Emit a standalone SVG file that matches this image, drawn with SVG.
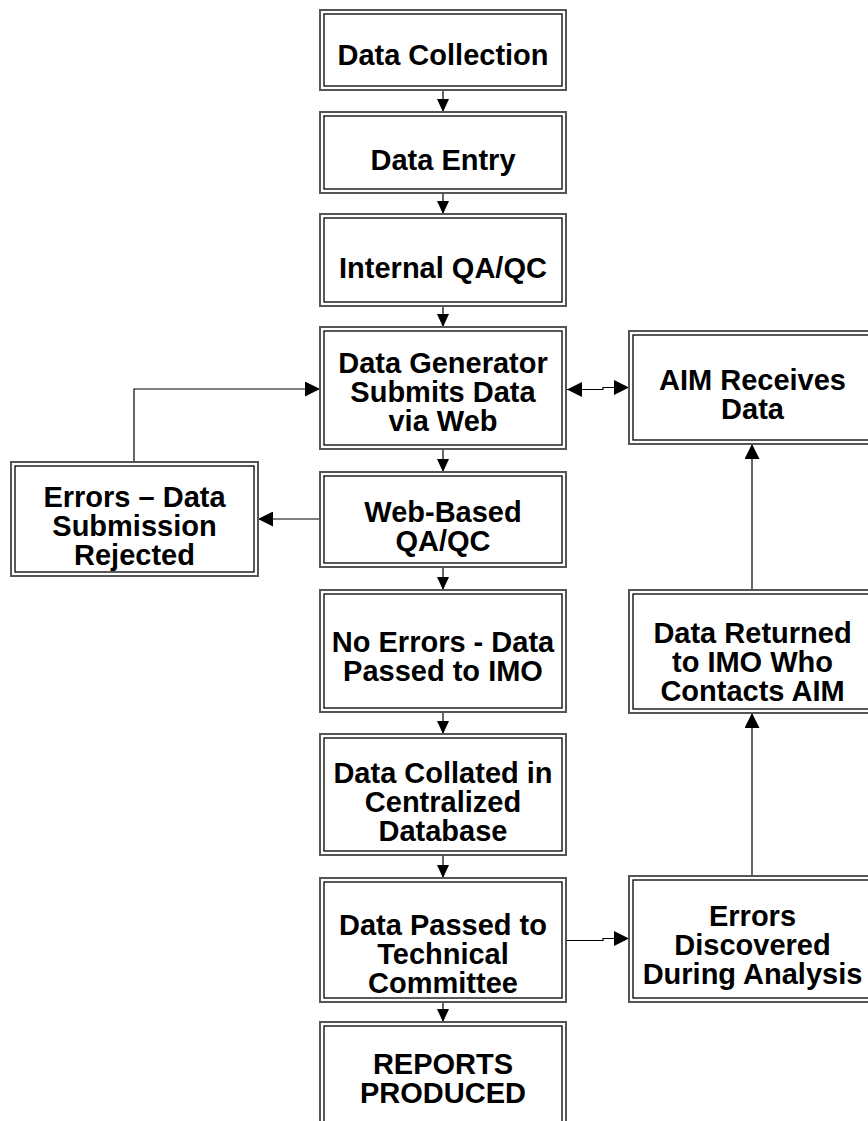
<svg xmlns="http://www.w3.org/2000/svg" width="868" height="1121" viewBox="0 0 868 1121">
  <style>
    .o { fill: #fff; stroke: #555; stroke-width: 2; }
    .i { fill: none; stroke: #000; stroke-width: 1.3; }
    .t { font-family: "Liberation Sans", Arial, sans-serif; font-weight: bold; font-size: 29px; text-anchor: middle; fill: #000; }
    .c { fill: none; stroke: #000; stroke-width: 1.2; }
  </style>
  <defs>
    <marker id="ah" viewBox="0 0 13 12" refX="13" refY="6" markerWidth="13" markerHeight="12" markerUnits="userSpaceOnUse" orient="auto">
      <path d="M0,0 L13,6 L0,12 z" fill="#000"/>
    </marker>
    <marker id="ahL" viewBox="0 0 15 15" refX="15" refY="7.5" markerWidth="15" markerHeight="15" markerUnits="userSpaceOnUse" orient="auto-start-reverse">
      <path d="M0,0 L15,7.5 L0,15 z" fill="#000"/>
    </marker>
  </defs>

  <!-- connectors -->
  <g id="connectors">
    <path class="c" d="M443,90 V112" marker-end="url(#ah)"/>
    <path class="c" d="M443,193 V214" marker-end="url(#ah)"/>
    <path class="c" d="M443,306 V327" marker-end="url(#ah)"/>
    <path class="c" d="M443,449 V472" marker-end="url(#ah)"/>
    <path class="c" d="M443,567 V590" marker-end="url(#ah)"/>
    <path class="c" d="M443,712 V734" marker-end="url(#ah)"/>
    <path class="c" d="M443,855 V878" marker-end="url(#ah)"/>
    <path class="c" d="M443,1002 V1022" marker-end="url(#ah)"/>
    <path class="c" d="M320,519 H258" marker-end="url(#ahL)"/>
    <path class="c" d="M134,462 V389 H320" marker-end="url(#ahL)"/>
    <path class="c" d="M567,389.5 H603 V387.5 H629" marker-start="url(#ahL)" marker-end="url(#ahL)"/>
    <path class="c" d="M566,940.5 H603 V938.5 H629" marker-end="url(#ahL)"/>
    <path class="c" d="M752,876 V713" marker-end="url(#ahL)"/>
    <path class="c" d="M752,590 V444" marker-end="url(#ahL)"/>
  </g>

  <g id="data-collection">
    <rect class="o" x="320" y="10" width="246" height="80"/>
    <rect class="i" x="324" y="14" width="238" height="72"/>
    <text class="t" x="443" y="64.5">Data Collection</text>
  </g>
  <g id="data-entry">
    <rect class="o" x="320" y="112" width="246" height="81"/>
    <rect class="i" x="324" y="116" width="238" height="73"/>
    <text class="t" x="443" y="170">Data Entry</text>
  </g>
  <g id="internal-qaqc">
    <rect class="o" x="320" y="214" width="246" height="92"/>
    <rect class="i" x="324" y="218" width="238" height="84"/>
    <text class="t" x="443" y="278">Internal QA/QC</text>
  </g>
  <g id="submits-data">
    <rect class="o" x="320" y="327" width="246" height="122"/>
    <rect class="i" x="324" y="331" width="238" height="114"/>
    <text class="t" x="443" y="373">Data Generator</text>
    <text class="t" x="443" y="402">Submits Data</text>
    <text class="t" x="443" y="431">via Web</text>
  </g>
  <g id="web-qaqc">
    <rect class="o" x="320" y="472" width="246" height="95"/>
    <rect class="i" x="324" y="476" width="238" height="87"/>
    <text class="t" x="443" y="522">Web-Based</text>
    <text class="t" x="443" y="551">QA/QC</text>
  </g>
  <g id="no-errors">
    <rect class="o" x="320" y="590" width="246" height="122"/>
    <rect class="i" x="324" y="594" width="238" height="114"/>
    <text class="t" x="443" y="652">No Errors - Data</text>
    <text class="t" x="443" y="681">Passed to IMO</text>
  </g>
  <g id="data-collated">
    <rect class="o" x="320" y="734" width="246" height="121"/>
    <rect class="i" x="324" y="738" width="238" height="113"/>
    <text class="t" x="443" y="783">Data Collated in</text>
    <text class="t" x="443" y="812">Centralized</text>
    <text class="t" x="443" y="841">Database</text>
  </g>
  <g id="technical-committee">
    <rect class="o" x="320" y="878" width="246" height="124"/>
    <rect class="i" x="324" y="882" width="238" height="116"/>
    <text class="t" x="443" y="935">Data Passed to</text>
    <text class="t" x="443" y="964">Technical</text>
    <text class="t" x="443" y="993">Committee</text>
  </g>
  <g id="reports">
    <rect class="o" x="320" y="1022" width="246" height="110"/>
    <rect class="i" x="324" y="1026" width="238" height="102"/>
    <text class="t" x="443" y="1074">REPORTS</text>
    <text class="t" x="443" y="1103">PRODUCED</text>
  </g>
  <g id="submission-rejected">
    <rect class="o" x="11" y="462" width="247" height="114"/>
    <rect class="i" x="15" y="466" width="239" height="106"/>
    <text class="t" x="134.5" y="507">Errors – Data</text>
    <text class="t" x="134.5" y="536">Submission</text>
    <text class="t" x="134.5" y="565">Rejected</text>
  </g>
  <g id="aim-receives">
    <rect class="o" x="629" y="331" width="248" height="113"/>
    <rect class="i" x="633" y="335" width="240" height="105"/>
    <text class="t" x="752.5" y="390">AIM Receives</text>
    <text class="t" x="752.5" y="419">Data</text>
  </g>
  <g id="data-returned">
    <rect class="o" x="629" y="590" width="248" height="123"/>
    <rect class="i" x="633" y="594" width="240" height="115"/>
    <text class="t" x="752.5" y="642.5">Data Returned</text>
    <text class="t" x="752.5" y="671.5">to IMO Who</text>
    <text class="t" x="752.5" y="700.5">Contacts AIM</text>
  </g>
  <g id="errors-discovered">
    <rect class="o" x="629" y="876" width="248" height="126"/>
    <rect class="i" x="633" y="880" width="240" height="118"/>
    <text class="t" x="752.5" y="926">Errors</text>
    <text class="t" x="752.5" y="955">Discovered</text>
    <text class="t" x="752.5" y="984">During Analysis</text>
  </g>
</svg>
